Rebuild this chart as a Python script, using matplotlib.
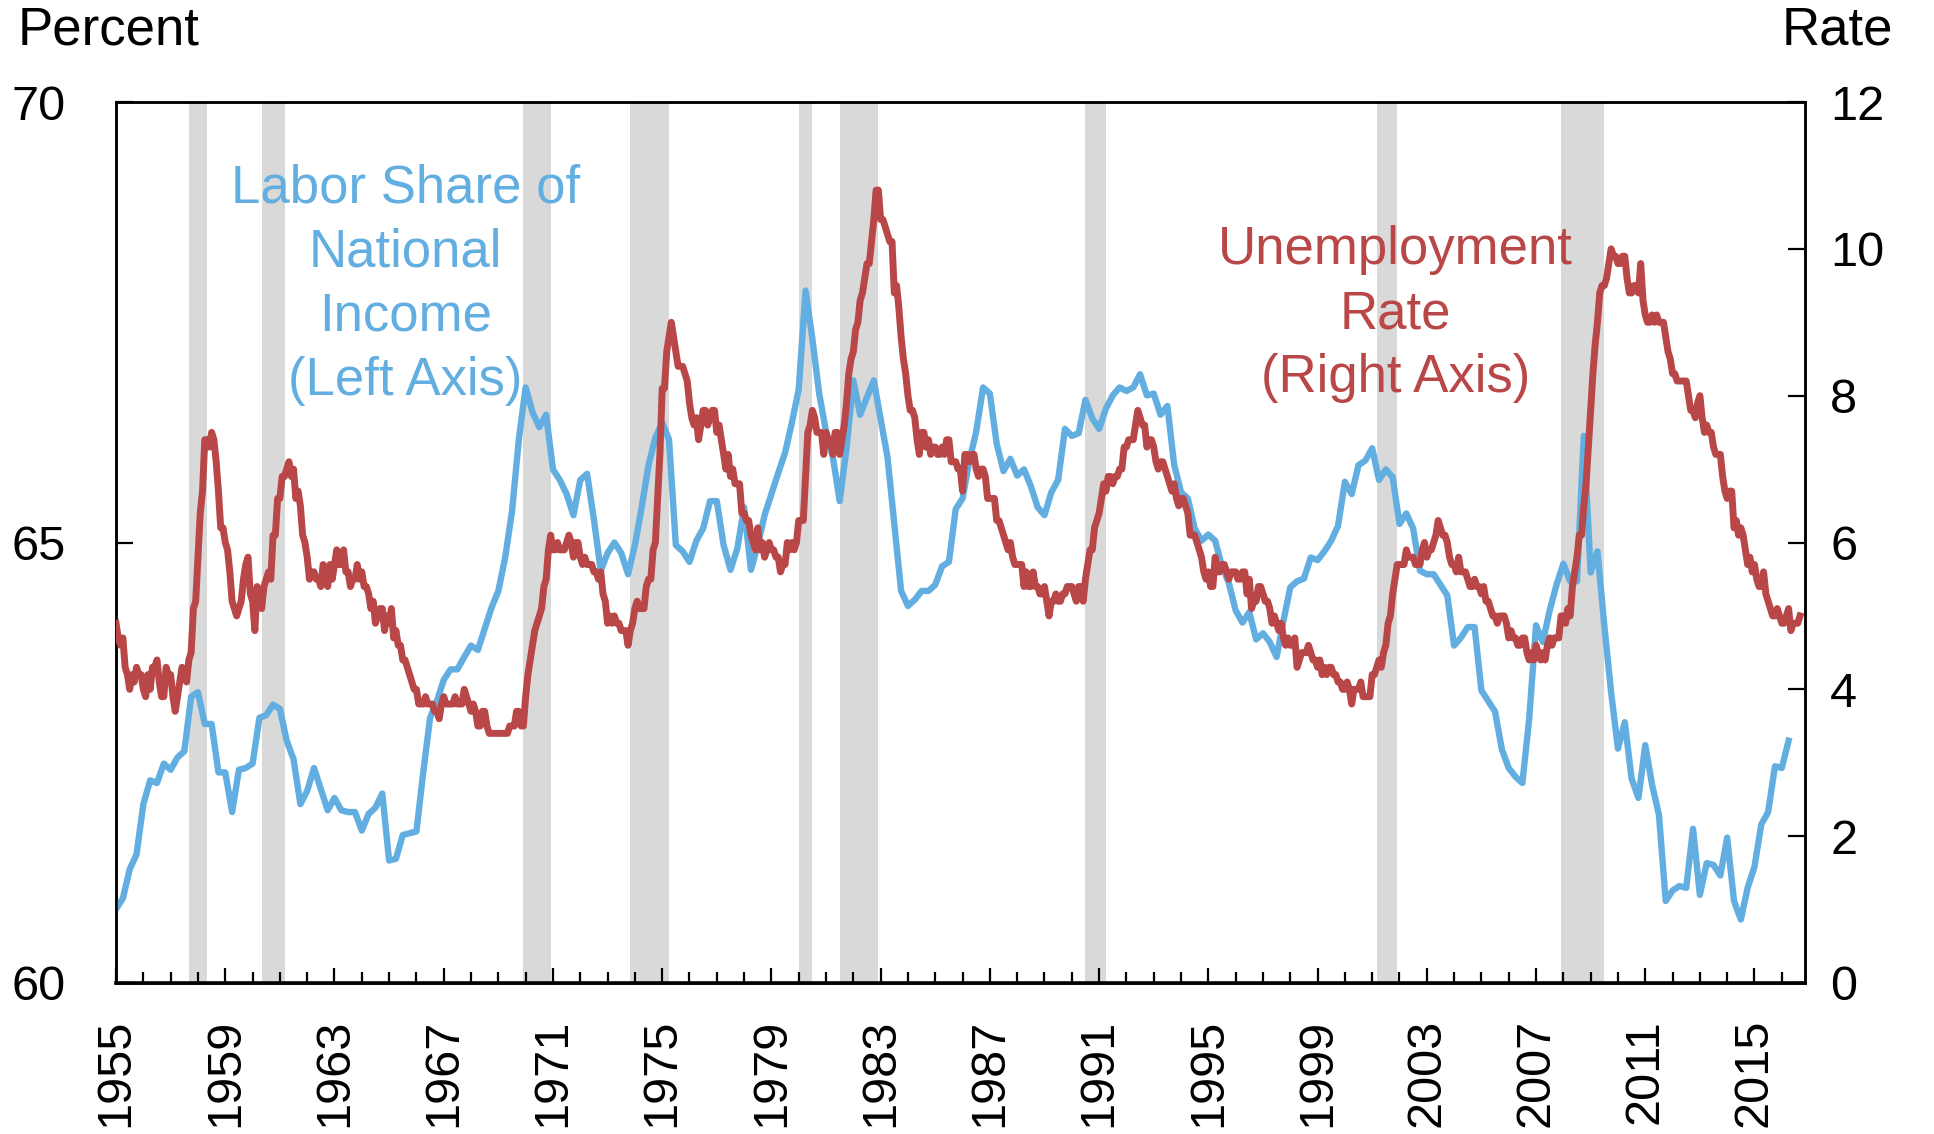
import numpy as np
import matplotlib.pyplot as plt

# labor share of national income, quarterly from 1955Q1 (percent)
labor_share = [
    60.84, 60.96, 61.29, 61.46,  # 1955
    62.03, 62.30, 62.27, 62.49,
    62.42, 62.56, 62.63, 63.25,
    63.30, 62.94, 62.94, 62.39,
    62.39, 61.94, 62.42, 62.44,
    62.49, 63.01, 63.04, 63.16,  # 1960
    63.11, 62.75, 62.54, 62.03,
    62.18, 62.44, 62.20, 61.96,
    62.10, 61.96, 61.94, 61.94,
    61.73, 61.92, 61.99, 62.15,
    61.39, 61.41, 61.68, 61.70,  # 1965
    61.72, 62.39, 63.01, 63.20,
    63.44, 63.56, 63.56, 63.70,
    63.83, 63.78, 64.02, 64.26,
    64.45, 64.83, 65.35, 66.17,
    66.76, 66.48, 66.31, 66.45,  # 1970
    65.83, 65.71, 65.55, 65.31,
    65.71, 65.78, 65.26, 64.68,
    64.88, 65.00, 64.88, 64.64,
    64.97, 65.40, 65.88, 66.19,
    66.36, 66.17, 64.97, 64.90,  # 1975
    64.78, 65.02, 65.16, 65.47,
    65.47, 64.97, 64.69, 64.93,
    65.40, 64.69, 64.97, 65.31,
    65.55, 65.79, 66.02, 66.36,
    66.74, 67.86, 67.31, 66.69,  # 1980
    66.26, 65.97, 65.47, 66.07,
    66.84, 66.45, 66.65, 66.84,
    66.40, 65.97, 65.21, 64.45,
    64.28, 64.35, 64.45, 64.45,
    64.52, 64.73, 64.78, 65.38,  # 1985
    65.50, 65.93, 66.26, 66.76,
    66.69, 66.12, 65.81, 65.95,
    65.76, 65.83, 65.64, 65.40,
    65.31, 65.57, 65.71, 66.29,
    66.21, 66.24, 66.62, 66.41,  # 1990
    66.29, 66.52, 66.67, 66.76,
    66.72, 66.76, 66.91, 66.67,
    66.69, 66.45, 66.55, 65.88,
    65.57, 65.50, 65.16, 65.02,
    65.09, 65.02, 64.73, 64.54,  # 1995
    64.23, 64.09, 64.21, 63.90,
    63.97, 63.87, 63.70, 64.11,
    64.49, 64.56, 64.59, 64.83,
    64.80, 64.90, 65.02, 65.19,
    65.69, 65.55, 65.88, 65.93,  # 2000
    66.07, 65.71, 65.83, 65.74,
    65.21, 65.33, 65.16, 64.68,
    64.64, 64.64, 64.52, 64.40,
    63.83, 63.92, 64.04, 64.04,
    63.32, 63.20, 63.08, 62.65,  # 2005
    62.44, 62.34, 62.27, 63.00,
    64.06, 63.87, 64.23, 64.52,
    64.76, 64.56, 64.56, 66.21,
    64.66, 64.90, 64.06, 63.30,
    62.66, 62.96, 62.32, 62.10,  # 2010
    62.70, 62.25, 61.91, 60.93,
    61.05, 61.10, 61.08, 61.75,
    61.00, 61.36, 61.34, 61.22,
    61.65, 60.93, 60.72, 61.08,
    61.32, 61.80, 61.94, 62.46,  # 2015
    62.44, 62.75,
]

# civilian unemployment rate, monthly from Jan 1955 (percent)
unemployment = [
    4.9, 4.7, 4.6, 4.7, 4.3, 4.2, 4.0, 4.2, 4.1, 4.3, 4.2, 4.2,  # 1955
    4.0, 3.9, 4.2, 4.0, 4.3, 4.3, 4.4, 4.1, 3.9, 3.9, 4.3, 4.2,
    4.2, 3.9, 3.7, 3.9, 4.1, 4.3, 4.2, 4.1, 4.4, 4.5, 5.1, 5.2,
    5.8, 6.4, 6.7, 7.4, 7.4, 7.3, 7.5, 7.4, 7.1, 6.7, 6.2, 6.2,
    6.0, 5.9, 5.6, 5.2, 5.1, 5.0, 5.1, 5.2, 5.5, 5.7, 5.8, 5.3,
    5.2, 4.8, 5.4, 5.2, 5.1, 5.4, 5.5, 5.6, 5.5, 6.1, 6.1, 6.6,  # 1960
    6.6, 6.9, 6.9, 7.0, 7.1, 6.9, 7.0, 6.6, 6.7, 6.5, 6.1, 6.0,
    5.8, 5.5, 5.6, 5.6, 5.5, 5.5, 5.4, 5.7, 5.6, 5.4, 5.7, 5.5,
    5.7, 5.9, 5.7, 5.7, 5.9, 5.6, 5.6, 5.4, 5.5, 5.5, 5.7, 5.5,
    5.6, 5.4, 5.4, 5.3, 5.1, 5.2, 4.9, 5.0, 5.1, 5.1, 4.8, 5.0,
    4.9, 5.1, 4.7, 4.8, 4.6, 4.6, 4.4, 4.4, 4.3, 4.2, 4.1, 4.0,  # 1965
    4.0, 3.8, 3.8, 3.8, 3.9, 3.8, 3.8, 3.8, 3.7, 3.7, 3.6, 3.8,
    3.9, 3.8, 3.8, 3.8, 3.8, 3.9, 3.8, 3.8, 3.8, 4.0, 3.9, 3.8,
    3.7, 3.8, 3.7, 3.5, 3.5, 3.7, 3.7, 3.5, 3.4, 3.4, 3.4, 3.4,
    3.4, 3.4, 3.4, 3.4, 3.4, 3.5, 3.5, 3.5, 3.7, 3.7, 3.5, 3.5,
    3.9, 4.2, 4.4, 4.6, 4.8, 4.9, 5.0, 5.1, 5.4, 5.5, 5.9, 6.1,  # 1970
    5.9, 5.9, 6.0, 5.9, 5.9, 5.9, 6.0, 6.1, 6.0, 5.8, 6.0, 6.0,
    5.8, 5.7, 5.8, 5.7, 5.7, 5.7, 5.6, 5.6, 5.5, 5.6, 5.3, 5.2,
    4.9, 5.0, 4.9, 5.0, 4.9, 4.9, 4.8, 4.8, 4.8, 4.6, 4.8, 4.9,
    5.1, 5.2, 5.1, 5.1, 5.1, 5.4, 5.5, 5.5, 5.9, 6.0, 6.6, 7.2,
    8.1, 8.1, 8.6, 8.8, 9.0, 8.8, 8.6, 8.4, 8.4, 8.4, 8.3, 8.2,  # 1975
    7.9, 7.7, 7.6, 7.7, 7.4, 7.6, 7.8, 7.8, 7.6, 7.7, 7.8, 7.8,
    7.5, 7.6, 7.4, 7.2, 7.0, 7.2, 6.9, 7.0, 6.8, 6.8, 6.8, 6.4,
    6.4, 6.3, 6.3, 6.1, 6.0, 5.9, 6.2, 5.9, 6.0, 5.8, 5.9, 6.0,
    5.9, 5.9, 5.8, 5.8, 5.6, 5.7, 5.7, 6.0, 5.9, 6.0, 5.9, 6.0,
    6.3, 6.3, 6.3, 6.9, 7.5, 7.6, 7.8, 7.7, 7.5, 7.5, 7.5, 7.2,  # 1980
    7.5, 7.4, 7.4, 7.2, 7.5, 7.5, 7.2, 7.4, 7.6, 7.9, 8.3, 8.5,
    8.6, 8.9, 9.0, 9.3, 9.4, 9.6, 9.8, 9.8, 10.1, 10.4, 10.8, 10.8,
    10.4, 10.4, 10.3, 10.2, 10.1, 10.1, 9.4, 9.5, 9.2, 8.8, 8.5, 8.3,
    8.0, 7.8, 7.8, 7.7, 7.4, 7.2, 7.5, 7.5, 7.3, 7.4, 7.2, 7.3,
    7.3, 7.2, 7.2, 7.3, 7.2, 7.4, 7.4, 7.1, 7.1, 7.1, 7.0, 7.0,  # 1985
    6.7, 7.2, 7.2, 7.1, 7.2, 7.2, 7.0, 6.9, 7.0, 7.0, 6.9, 6.6,
    6.6, 6.6, 6.6, 6.3, 6.3, 6.2, 6.1, 6.0, 5.9, 6.0, 5.8, 5.7,
    5.7, 5.7, 5.7, 5.4, 5.6, 5.4, 5.4, 5.6, 5.4, 5.4, 5.3, 5.3,
    5.4, 5.2, 5.0, 5.2, 5.2, 5.3, 5.2, 5.2, 5.3, 5.3, 5.4, 5.4,
    5.4, 5.3, 5.2, 5.4, 5.4, 5.2, 5.5, 5.7, 5.9, 5.9, 6.2, 6.3,  # 1990
    6.4, 6.6, 6.8, 6.7, 6.9, 6.9, 6.8, 6.9, 6.9, 7.0, 7.0, 7.3,
    7.3, 7.4, 7.4, 7.4, 7.6, 7.8, 7.7, 7.6, 7.6, 7.3, 7.4, 7.4,
    7.3, 7.1, 7.0, 7.1, 7.1, 7.0, 6.9, 6.8, 6.7, 6.8, 6.6, 6.5,
    6.6, 6.6, 6.5, 6.4, 6.1, 6.1, 6.1, 6.0, 5.9, 5.8, 5.6, 5.5,
    5.6, 5.4, 5.4, 5.8, 5.6, 5.6, 5.7, 5.7, 5.6, 5.5, 5.6, 5.6,  # 1995
    5.6, 5.5, 5.5, 5.6, 5.6, 5.3, 5.5, 5.1, 5.2, 5.2, 5.4, 5.4,
    5.3, 5.2, 5.2, 5.1, 4.9, 5.0, 4.9, 4.8, 4.9, 4.7, 4.6, 4.7,
    4.6, 4.6, 4.7, 4.3, 4.4, 4.5, 4.5, 4.5, 4.6, 4.5, 4.4, 4.4,
    4.3, 4.4, 4.2, 4.3, 4.2, 4.3, 4.3, 4.2, 4.2, 4.1, 4.1, 4.0,
    4.0, 4.1, 4.0, 3.8, 4.0, 4.0, 4.0, 4.1, 3.9, 3.9, 3.9, 3.9,  # 2000
    4.2, 4.2, 4.3, 4.4, 4.3, 4.5, 4.6, 4.9, 5.0, 5.3, 5.5, 5.7,
    5.7, 5.7, 5.7, 5.9, 5.8, 5.8, 5.8, 5.7, 5.7, 5.7, 5.9, 6.0,
    5.8, 5.9, 5.9, 6.0, 6.1, 6.3, 6.2, 6.1, 6.1, 6.0, 5.8, 5.7,
    5.7, 5.6, 5.8, 5.6, 5.6, 5.6, 5.5, 5.4, 5.4, 5.5, 5.4, 5.4,
    5.3, 5.4, 5.2, 5.2, 5.1, 5.0, 5.0, 4.9, 5.0, 5.0, 5.0, 4.9,  # 2005
    4.7, 4.8, 4.7, 4.7, 4.6, 4.6, 4.7, 4.7, 4.5, 4.4, 4.5, 4.4,
    4.6, 4.5, 4.4, 4.5, 4.4, 4.6, 4.7, 4.6, 4.7, 4.7, 4.7, 5.0,
    5.0, 4.9, 5.1, 5.0, 5.4, 5.6, 5.8, 6.1, 6.1, 6.5, 6.8, 7.3,
    7.8, 8.3, 8.7, 9.0, 9.4, 9.5, 9.5, 9.6, 9.8, 10.0, 9.9, 9.9,
    9.8, 9.8, 9.9, 9.9, 9.6, 9.4, 9.4, 9.5, 9.5, 9.4, 9.8, 9.3,  # 2010
    9.1, 9.0, 9.0, 9.1, 9.0, 9.1, 9.0, 9.0, 9.0, 8.8, 8.6, 8.5,
    8.3, 8.3, 8.2, 8.2, 8.2, 8.2, 8.2, 8.0, 7.8, 7.8, 7.7, 7.9,
    8.0, 7.7, 7.5, 7.6, 7.5, 7.5, 7.3, 7.2, 7.2, 7.2, 6.9, 6.7,
    6.6, 6.7, 6.7, 6.2, 6.3, 6.1, 6.2, 6.1, 5.9, 5.7, 5.8, 5.6,
    5.7, 5.5, 5.4, 5.4, 5.6, 5.3, 5.2, 5.1, 5.0, 5.0, 5.1, 5.0,  # 2015
    4.9, 4.9, 5.0, 5.1, 4.8, 4.9, 4.9, 4.9, 5.0,
]

# NBER recessions (decimal years)
rec_start = [1957.67, 1960.33, 1969.92, 1973.83, 1980.0, 1981.5, 1990.5, 2001.17, 2007.92]
rec_end = [1958.33, 1961.17, 1970.92, 1975.25, 1980.5, 1982.92, 1991.25, 2001.92, 2009.5]

year_labels = list(range(1955, 2016, 4))

blue = '#62AEE1'
red = '#B94747'

plt.rcParams['font.family'] = ['Liberation Sans', 'DejaVu Sans']

fig = plt.figure(figsize=(19.34, 11.34), dpi=100)
ax = fig.add_axes([0.060, 0.1332, 0.8733, 0.7768])
ax2 = ax.twinx()

for s, e in zip(rec_start, rec_end):
    ax.axvspan(s, e, color='#D9D9D9', lw=0, zorder=0)

xq = 1955 + np.arange(len(labor_share)) / 4
xm = 1955 + np.arange(len(unemployment)) / 12
ax.plot(xq, labor_share, color=blue, lw=4.6, solid_joinstyle='round', zorder=3)
ax2.plot(xm, unemployment, color=red, lw=5.0, solid_joinstyle='round', zorder=3)

ax.set_xlim(1955, 2016.85)
ax.set_ylim(60, 70)
ax2.set_ylim(0, 12)
ax.set_yticks([60, 65, 70])
ax2.set_yticks(range(0, 13, 2))
ax.set_xticks(year_labels)
ax.set_xticklabels([str(y) for y in year_labels], rotation=90)
ax.set_xticks(range(1955, 2017), minor=True)

ax.tick_params(axis='x', which='major', direction='in', length=11, width=1.6,
               labelsize=35, pad=26)
ax.tick_params(axis='x', which='minor', direction='in', length=8, width=1.6)
ax.tick_params(axis='y', direction='in', length=12, width=1.6, labelsize=35, pad=36)
ax2.tick_params(axis='y', direction='in', length=12, width=1.6, labelsize=35, pad=18)

for a in (ax, ax2):
    for sp in a.spines.values():
        sp.set_linewidth(1.8)
ax.spines['bottom'].set_linewidth(2.6)

ax.text(1965.6, 69.3, 'Labor Share of\nNational\nIncome\n(Left Axis)', color=blue,
        fontsize=38, ha='center', va='top', linespacing=1.36)
ax.text(2001.85, 68.6, 'Unemployment\nRate\n(Right Axis)', color=red,
        fontsize=38, ha='center', va='top', linespacing=1.36)

fig.text(0.009, 0.973, 'Percent', fontsize=38, ha='left', va='center')
fig.text(0.979, 0.973, 'Rate', fontsize=38, ha='right', va='center')

fig.savefig('out.png', dpi=100)
